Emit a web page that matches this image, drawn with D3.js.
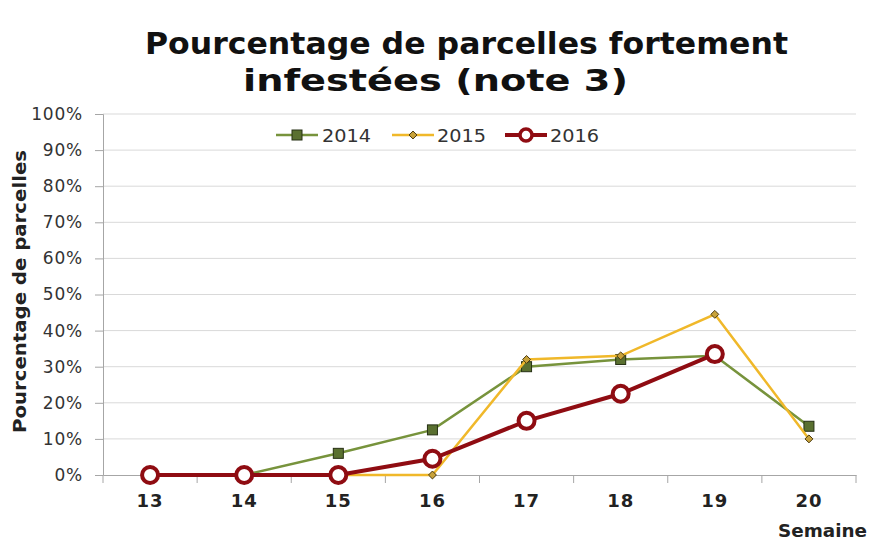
<!DOCTYPE html>
<html><head><meta charset="utf-8">
<script src="https://cdn.jsdelivr.net/npm/d3@7"></script>
<style>body{margin:0;background:#fff}svg{display:block}</style>
</head><body>
<script>
const weeks = ["13","14","15","16","17","18","19","20"];
const s2014 = [0, 0, 6, 12.5, 30, 32, 33, 13.5];
const s2015 = [0, 0, 0, 0, 32, 33, 44.5, 10];
const s2016 = [0, 0, 0, 4.5, 15, 22.5, 33.5, null];
const yTicks = [0,10,20,30,40,50,60,70,80,90,100];
const seriesNames = ["2014","2015","2016"];

const W = 874, H = 542;
const m = {left:103, right:18, top:114, bottom:67};
const svg = d3.select("body").append("svg").attr("width",W).attr("height",H);
const font = "'DejaVu Sans', Verdana, sans-serif";

const x = d3.scaleBand().domain(weeks).range([m.left, W-m.right]);
const y = d3.scaleLinear().domain([0,100]).range([H-m.bottom, m.top]);

// title
svg.append("text").attr("x",145).attr("y",54)
  .attr("font-family",font).attr("font-weight","bold").attr("font-size",30).attr("fill","#111")
  .attr("textLength",643).attr("lengthAdjust","spacingAndGlyphs")
  .text("Pourcentage de parcelles fortement");
svg.append("text").attr("x",243).attr("y",91)
  .attr("font-family",font).attr("font-weight","bold").attr("font-size",30).attr("fill","#111")
  .attr("textLength",385).attr("lengthAdjust","spacingAndGlyphs")
  .text("infestées (note 3)");

// gridlines
svg.append("g").selectAll("line").data(yTicks.filter(d=>d>0)).join("line")
  .attr("x1",m.left).attr("x2",W-m.right).attr("y1",d=>y(d)).attr("y2",d=>y(d))
  .attr("stroke","#d9d9d9").attr("stroke-width",1);

// y axis
const ya = svg.append("g").attr("transform",`translate(${m.left},0)`)
  .call(d3.axisLeft(y).tickValues(yTicks).tickFormat(d=>d+"%").tickSize(8).tickPadding(12));
ya.select(".domain").attr("stroke","#a6a6a6");
ya.selectAll(".tick line").attr("stroke","#a6a6a6");
ya.selectAll("text").attr("font-family",font).attr("font-size",17).attr("fill","#333")
  .attr("letter-spacing",0.8);

// x axis
const xa = svg.append("g").attr("transform",`translate(0,${H-m.bottom})`)
  .call(d3.axisBottom(x).tickSize(0).tickPadding(0));
xa.select(".domain").attr("stroke","#a6a6a6");
xa.selectAll("text").attr("font-family",font).attr("font-weight","bold").attr("font-size",18).attr("fill","#222")
  .attr("dy",null).attr("y",32).attr("letter-spacing",1);
const bounds = weeks.map(w=>x(w)).concat([x(weeks[weeks.length-1])+x.bandwidth()]);
xa.selectAll(".bt").data(bounds).join("line").attr("class","bt")
  .attr("x1",d=>d).attr("x2",d=>d).attr("y1",0).attr("y2",8).attr("stroke","#a6a6a6");

// axis titles
svg.append("text").attr("transform",`translate(26,433) rotate(-90)`)
  .attr("font-family",font).attr("font-weight","bold").attr("font-size",17).attr("fill","#222")
  .attr("textLength",283).attr("lengthAdjust","spacingAndGlyphs")
  .text("Pourcentage de parcelles");
svg.append("text").attr("x",778).attr("y",537)
  .attr("font-family",font).attr("font-weight","bold").attr("font-size",18).attr("fill","#222")
  .attr("textLength",89).attr("lengthAdjust","spacingAndGlyphs")
  .text("Semaine");

const cx = w => x(w) + x.bandwidth()/2;
const line = d3.line().defined(d=>d.v!=null).x(d=>cx(d.w)).y(d=>y(d.v));
const toPts = arr => weeks.map((w,i)=>({w, v:arr[i]}));

// 2014
const g14 = svg.append("g");
g14.append("path").attr("d",line(toPts(s2014))).attr("fill","none").attr("stroke","#77933c").attr("stroke-width",2.5);
g14.selectAll("rect").data(toPts(s2014).filter(d=>d.v!=null)).join("rect")
  .attr("x",d=>cx(d.w)-5).attr("y",d=>y(d.v)-5).attr("width",10).attr("height",10)
  .attr("fill","#5a7030").attr("stroke","#263014").attr("stroke-width",1);

// 2015
const g15 = svg.append("g");
g15.append("path").attr("d",line(toPts(s2015))).attr("fill","none").attr("stroke","#f0b82a").attr("stroke-width",2.5);
g15.selectAll("path.mk").data(toPts(s2015).filter(d=>d.v!=null)).join("path").attr("class","mk")
  .attr("d",d3.symbol(d3.symbolDiamond2,40)).attr("transform",d=>`translate(${cx(d.w)},${y(d.v)})`)
  .attr("fill","#c8a23a").attr("stroke","#4a3a10").attr("stroke-width",1);

// 2016
const g16 = svg.append("g");
g16.append("path").attr("d",line(toPts(s2016))).attr("fill","none").attr("stroke","#8f0c12").attr("stroke-width",4);
g16.selectAll("circle").data(toPts(s2016).filter(d=>d.v!=null)).join("circle")
  .attr("cx",d=>cx(d.w)).attr("cy",d=>y(d.v)).attr("r",8)
  .attr("fill","#fff").attr("stroke","#8f0c12").attr("stroke-width",4);

// legend
const leg = [
  {name:seriesNames[0], x:276, tx:322, color:"#77933c", sw:2.5},
  {name:seriesNames[1], x:392, tx:437, color:"#f0b82a", sw:2.5},
  {name:seriesNames[2], x:505, tx:550, color:"#8f0c12", sw:4}
];
const ly = 135;
leg.forEach((l,i)=>{
  const g = svg.append("g");
  g.append("line").attr("x1",l.x).attr("x2",l.x+42).attr("y1",ly).attr("y2",ly).attr("stroke",l.color).attr("stroke-width",l.sw);
  if(i===0) g.append("rect").attr("x",l.x+16).attr("y",ly-5).attr("width",10).attr("height",10).attr("fill","#5a7030").attr("stroke","#263014");
  if(i===1) g.append("path").attr("d",d3.symbol(d3.symbolDiamond2,40)).attr("transform",`translate(${l.x+21},${ly})`).attr("fill","#c8a23a").attr("stroke","#4a3a10");
  if(i===2) g.append("circle").attr("cx",l.x+21).attr("cy",ly).attr("r",6).attr("fill","#fff").attr("stroke",l.color).attr("stroke-width",3.5);
  g.append("text").attr("x",l.tx).attr("y",ly+7).attr("font-family",font).attr("font-size",17).attr("fill","#333")
    .attr("textLength",49).attr("lengthAdjust","spacingAndGlyphs").text(l.name);
});
</script>
</body></html>
